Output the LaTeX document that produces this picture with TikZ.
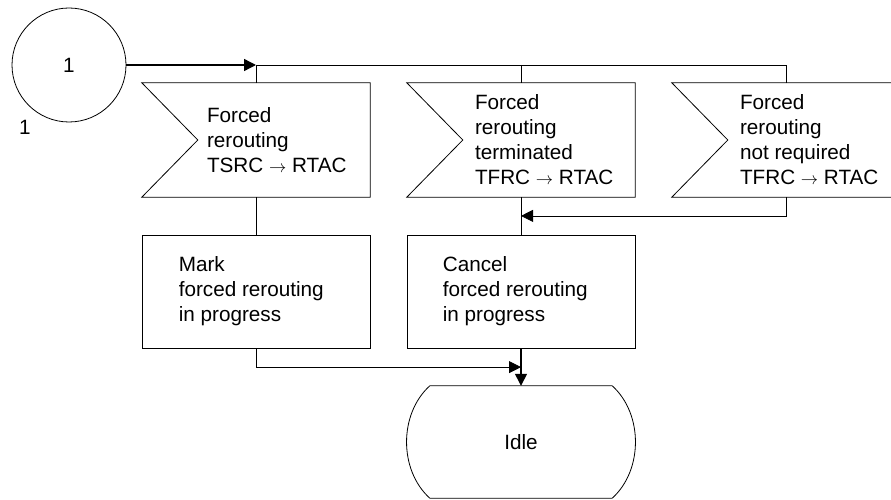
\documentclass[tikz,border=0pt]{standalone}
\usepackage{fontspec}
\setsansfont{Liberation Sans}
\usetikzlibrary{arrows.meta,calc}

\newcommand{\sigarrow}{{\fontsize{17}{17}\selectfont$\rightarrow$}}

\tikzset{
  sdl/.style={font=\sffamily\fontsize{20.7}{25}\selectfont},
  line/.style={line width=0.8pt},
  taskbox/.style={draw, line width=0.8pt, minimum width=228pt, minimum height=113pt, inner sep=0pt},
  sigbox/.style={minimum width=228pt, minimum height=114pt, inner sep=0pt},
  lbl/.style={sdl, align=left, anchor=west, inner sep=0pt},
  flow/.style={line width=0.8pt, -{Triangle[length=12pt,width=12pt]}},
}

\begin{document}
\begin{tikzpicture}[x=1pt, y=-1pt]
\useasboundingbox (0,0) rectangle (891,500);

% Connector 1
\node[draw, circle, line width=0.8pt, minimum size=114pt, sdl] (con1) at (69,65) {1};
\node[sdl, inner sep=0pt] (con1lbl) at (25,127) {1};

% Inputs
\node[sigbox] (in1) at (256,140) {};
\node[sigbox] (in2) at (521,140) {};
\node[sigbox] (in3) at (786,140) {};
\foreach \n in {in1,in2,in3}
  \draw[line] (\n.north west) -- (\n.north east) -- (\n.south east) -- (\n.south west)
    -- ([xshift=56pt]\n.west) -- cycle;
\node[lbl] (in1txt) at ([xshift=65pt]in1.west) {Forced\\rerouting\\TSRC \sigarrow\ RTAC};
\node[lbl] (in2txt) at ([xshift=68pt]in2.west) {Forced\\rerouting\\terminated\\TFRC \sigarrow\ RTAC};
\node[lbl] (in3txt) at ([xshift=68pt]in3.west) {Forced\\rerouting\\not required\\TFRC \sigarrow\ RTAC};

% Tasks
\node[taskbox] (tk1) at (256,291.5) {};
\node[taskbox] (tk2) at (521,291.5) {};
\node[lbl] (tk1txt) at ([xshift=37pt]tk1.west) {Mark\\forced rerouting\\in progress};
\node[lbl] (tk2txt) at ([xshift=36pt]tk2.west) {Cancel\\forced rerouting\\in progress};

% Next state
\node[sigbox, minimum height=112pt, sdl] (idle) at (521,442) {Idle};
\draw[line] ([xshift=23pt]idle.north west) -- ([xshift=-23pt]idle.north east)
  .. controls ([xshift=8pt,yshift=-28pt]idle.north east) and ([xshift=8pt,yshift=28pt]idle.south east)
  .. ([xshift=-23pt]idle.south east) -- ([xshift=23pt]idle.south west)
  .. controls ([xshift=-8pt,yshift=28pt]idle.south west) and ([xshift=-8pt,yshift=-28pt]idle.north west)
  .. cycle;

% Flow lines
\draw[flow, line width=1.4pt] (con1.east) -- (in1.north |- con1.east);
\draw[line] (in1.north |- con1.east) -- (in3.north |- con1.east) -- (in3.north);
\draw[line] (in1.north |- con1.east) -- (in1.north);
\draw[line] (in2.north |- con1.east) -- (in2.north);
\draw[line] (in1.south) -- (tk1.north);
\coordinate (j1) at ($(in2.south)!0.5!(tk2.north)$);
\draw[line] (in2.south) -- (tk2.north);
\draw[flow] (in3.south) |- (j1);
\coordinate (j2) at ($(tk2.south)!0.5!(idle.north)$);
\draw[flow] (tk1.south) |- (j2);
\draw[flow, line width=1.4pt] (tk2.south) -- (idle.north);

\end{tikzpicture}
\end{document}
